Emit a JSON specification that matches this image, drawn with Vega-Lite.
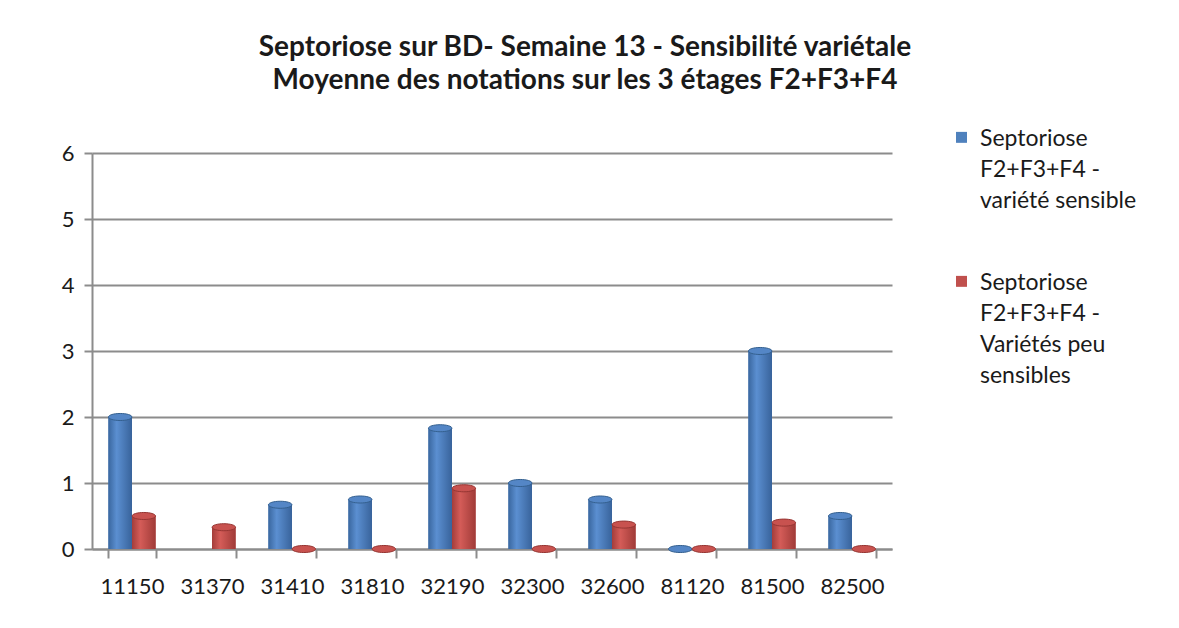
{
  "$schema": "https://vega.github.io/schema/vega-lite/v6.json",
  "autosize": {"type": "none"},
  "width": 800,
  "height": 396,
  "padding": {"left": 92, "top": 153, "right": 287, "bottom": 79},
  "background": "white",
  "title": {
    "text": ["Septoriose sur BD- Semaine 13 - Sensibilité variétale", "Moyenne des notations sur les 3 étages F2+F3+F4"],
    "anchor": "middle",
    "frame": "group",
    "dx": 93,
    "offset": 21,
    "font": "Lato",
    "fontSize": 28,
    "fontWeight": "bold",
    "color": "#1a1a1a",
    "lineHeight": 33
  },
  "config": {
    "view": {"stroke": null},
    "style": {"guide-label": {"lineHeight": 31}},
    "axis": {"labelFont": "Lato", "labelFontSize": 22, "labelColor": "#1a1a1a"},
    "legend": {"labelFont": "Lato", "labelFontSize": 23, "labelColor": "#1a1a1a"}
  },
  "data": {
    "values": [
      {"station": "11150", "serie": "sensible", "valeur": 2.0},
      {"station": "11150", "serie": "peu", "valeur": 0.5},
      {"station": "31370", "serie": "sensible", "valeur": null},
      {"station": "31370", "serie": "peu", "valeur": 0.33},
      {"station": "31410", "serie": "sensible", "valeur": 0.67},
      {"station": "31410", "serie": "peu", "valeur": 0},
      {"station": "31810", "serie": "sensible", "valeur": 0.75},
      {"station": "31810", "serie": "peu", "valeur": 0},
      {"station": "32190", "serie": "sensible", "valeur": 1.83},
      {"station": "32190", "serie": "peu", "valeur": 0.92},
      {"station": "32300", "serie": "sensible", "valeur": 1.0},
      {"station": "32300", "serie": "peu", "valeur": 0},
      {"station": "32600", "serie": "sensible", "valeur": 0.75},
      {"station": "32600", "serie": "peu", "valeur": 0.37},
      {"station": "81120", "serie": "sensible", "valeur": 0},
      {"station": "81120", "serie": "peu", "valeur": 0},
      {"station": "81500", "serie": "sensible", "valeur": 3.0},
      {"station": "81500", "serie": "peu", "valeur": 0.4},
      {"station": "82500", "serie": "sensible", "valeur": 0.5},
      {"station": "82500", "serie": "peu", "valeur": 0}
    ]
  },
  "encoding": {
    "x": {
      "field": "station", "type": "nominal", "sort": null,
      "scale": {"paddingInner": 0.41, "paddingOuter": 0.205},
      "axis": {
        "title": null, "labelAngle": 0, "domainColor": "#8c8c8c", "domainWidth": 2,
        "tickColor": "#8c8c8c", "tickWidth": 2, "tickSize": 9, "tickBand": "extent",
        "labelPadding": 18, "grid": false
      }
    },
    "xOffset": {"field": "serie", "type": "nominal", "sort": ["sensible", "peu"]},
    "y": {
      "field": "valeur", "type": "quantitative",
      "scale": {"domain": [0, 6], "nice": false},
      "axis": {
        "title": null, "values": [0, 1, 2, 3, 4, 5, 6], "labelOverlap": false,
        "domainColor": "#8c8c8c", "domainWidth": 2, "tickColor": "#8c8c8c", "tickWidth": 2,
        "tickSize": 8, "labelPadding": 10, "gridColor": "#8c8c8c", "gridWidth": 2
      }
    }
  },
  "layer": [
    {
      "mark": {"type": "bar", "xOffset": 7},
      "encoding": {
        "color": {
          "field": "serie", "type": "nominal",
          "scale": {"domain": ["sensible", "peu"], "range": ["#4f81bd", "#c0504d"]},
          "legend": {
            "title": null, "orient": "none", "legendX": 858, "legendY": -37,
            "symbolType": "M-1,0.8H1V2.8H-1Z", "symbolSize": 120, "symbolStrokeWidth": 0,
            "labelBaseline": "top", "labelLimit": 300, "rowPadding": 47, "labelOffset": 7,
            "labelExpr": "datum.label === 'sensible' ? ['Septoriose', 'F2+F3+F4 -', 'variété sensible'] : ['Septoriose', 'F2+F3+F4 -', 'Variétés peu', 'sensibles']"
          }
        }
      }
    },
    {
      "mark": {"type": "bar", "xOffset": 7},
      "encoding": {
        "fill": {
          "condition": {
            "test": "datum.serie === 'sensible'",
            "value": {"gradient": "linear", "x1": 0, "x2": 1, "y1": 0, "y2": 0,
              "stops": [{"offset": 0, "color": "#3a679f"}, {"offset": 0.35, "color": "#5b8fd1"}, {"offset": 1, "color": "#38639b"}]}
          },
          "value": {"gradient": "linear", "x1": 0, "x2": 1, "y1": 0, "y2": 0,
            "stops": [{"offset": 0, "color": "#a33d3a"}, {"offset": 0.35, "color": "#d45c58"}, {"offset": 1, "color": "#a03b38"}]}
        }
      }
    },
    {
      "mark": {"type": "point", "filled": true, "size": 552, "strokeWidth": 1, "xOffset": 7,
        "shape": "M-1,0A1,0.3 0 1,1 1,0A1,0.3 0 1,1 -1,0Z", "opacity": 1},
      "encoding": {
        "fill": {
          "condition": {"test": "datum.serie === 'sensible'", "value": "#5486c6"},
          "value": "#c8524f"
        },
        "stroke": {
          "condition": {"test": "datum.serie === 'sensible'", "value": "#34608f"},
          "value": "#963633"
        }
      }
    }
  ]
}
